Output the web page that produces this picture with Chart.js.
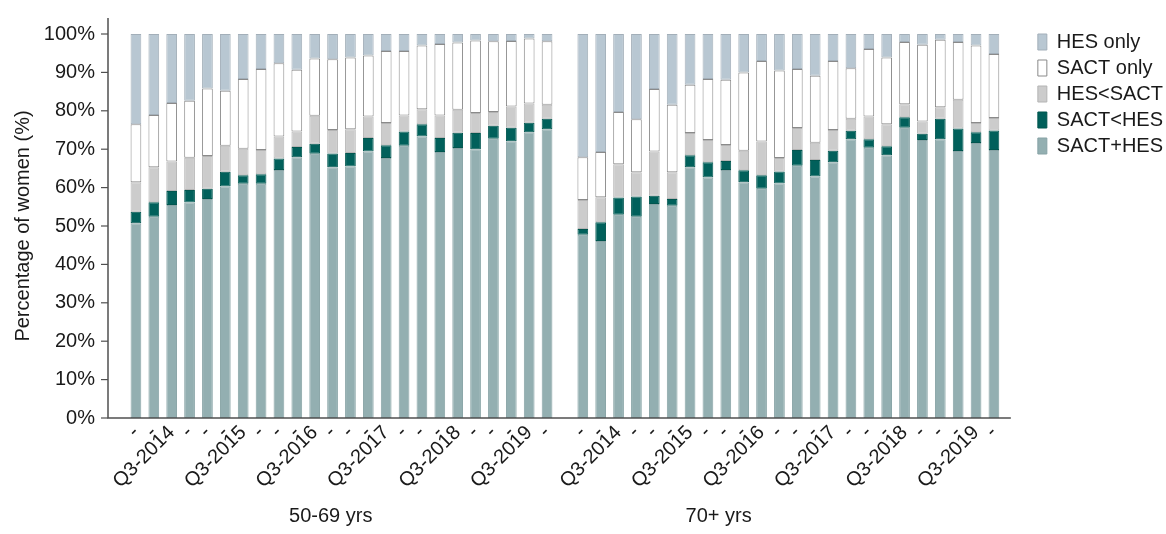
<!DOCTYPE html>
<html>
<head>
<meta charset="utf-8">
<script src="https://cdn.jsdelivr.net/npm/chart.js@4.4.1/dist/chart.umd.min.js"></script>
<style>
  body { margin: 0; background: #fff; }
</style>
</head>
<body>
<canvas id="treatmentChart" width="1166" height="534"></canvas>
<script>
// Age groups and quarter tick labels (Q1-2014 .. Q4-2019)
const ageGroups = ['50-69 yrs', '70+ yrs'];
const quarterLabels = [
  '-', '-', 'Q3-2014', '-',
  '-', '-', 'Q3-2015', '-',
  '-', '-', 'Q3-2016', '-',
  '-', '-', 'Q3-2017', '-',
  '-', '-', 'Q3-2018', '-',
  '-', '-', 'Q3-2019', '-'
];

// Percentage of women per quarter, 50-69 yrs
const sactHes5069 = [50.7, 52.4, 55.5, 56.1, 57.0, 60.3, 61.0, 61.0, 64.6, 67.9, 68.8, 65.3,
                     65.5, 69.4, 67.7, 70.9, 73.3, 69.3, 70.3, 70.0, 72.7, 72.1, 74.4, 75.2];
const sactBeforeHes5069 = [3.0, 3.8, 3.6, 3.3, 2.7, 3.8, 2.2, 2.5, 3.0, 2.7, 2.6, 3.6,
                           3.5, 3.5, 3.3, 3.7, 3.2, 3.6, 4.0, 4.2, 3.4, 3.5, 2.5, 2.7];
const hesBeforeSact5069 = [7.7, 9.1, 7.7, 8.4, 8.5, 6.8, 6.9, 6.3, 5.7, 4.0, 7.3, 6.1,
                           6.2, 5.6, 5.8, 4.2, 3.9, 5.9, 6.0, 5.2, 3.6, 5.5, 5.0, 3.7];
const sactOnly5069 = [15.1, 13.6, 15.2, 14.8, 17.6, 14.3, 18.2, 21.1, 19.1, 16.1, 14.9, 18.4,
                      18.7, 15.9, 18.8, 16.8, 16.6, 18.6, 17.5, 18.9, 18.4, 17.1, 16.9, 16.5];
const hesOnly5069 = [23.5, 21.1, 18.0, 17.4, 14.2, 14.8, 11.7, 9.1, 7.6, 9.3, 6.4, 6.6,
                     6.1, 5.6, 4.4, 4.4, 3.0, 2.6, 2.2, 1.7, 1.9, 1.8, 1.2, 1.9];

// Percentage of women per quarter, 70+ yrs
const sactHes70 = [47.7, 46.1, 52.9, 52.4, 55.7, 55.3, 65.3, 62.6, 64.6, 61.4, 59.7, 61.1,
                   65.7, 62.9, 66.6, 72.6, 70.4, 68.4, 75.6, 72.4, 72.6, 69.5, 71.6, 69.8];
const sactBeforeHes70 = [1.5, 4.9, 4.5, 5.3, 2.2, 1.7, 3.1, 4.0, 2.3, 3.1, 3.5, 3.1,
                         4.1, 4.3, 3.0, 2.2, 2.2, 2.4, 2.7, 1.6, 5.3, 5.9, 2.8, 5.1];
const hesBeforeSact70 = [7.6, 6.5, 8.7, 6.3, 11.5, 7.0, 5.8, 5.8, 4.2, 5.1, 8.8, 3.5,
                         5.7, 4.5, 5.4, 3.1, 5.9, 5.7, 3.4, 3.2, 3.0, 7.5, 2.4, 3.2];
const sactOnly70 = [11.1, 11.8, 13.6, 13.8, 16.3, 17.6, 12.6, 15.9, 17.0, 20.4, 21.0, 22.8,
                    15.4, 17.4, 18.0, 13.2, 17.6, 17.4, 16.2, 20.0, 17.6, 15.0, 20.2, 16.7];
const hesOnly70 = [32.1, 30.7, 20.3, 22.2, 14.3, 18.4, 13.2, 11.7, 11.9, 10.0, 7.0, 9.5,
                   9.1, 10.9, 7.0, 8.9, 3.9, 6.1, 2.1, 2.8, 1.5, 2.1, 3.0, 5.2];

const yTicks = [0, 10, 20, 30, 40, 50, 60, 70, 80, 90, 100];

// one empty slot separates the two age groups
const labels = quarterLabels.concat([''], quarterLabels);
const joinGroups = (a, b) => a.concat([null], b);

const seriesDefs = [
  { label: 'SACT+HES', young: sactHes5069,       old: sactHes70,       fill: '#93afb1', line: '#87a3a5' },
  { label: 'SACT<HES', young: sactBeforeHes5069, old: sactBeforeHes70, fill: '#01605b', line: '#01564f' },
  { label: 'HES<SACT', young: hesBeforeSact5069, old: hesBeforeSact70, fill: '#cccccc', line: '#b4b4b4' },
  { label: 'SACT only', young: sactOnly5069,     old: sactOnly70,      fill: '#ffffff', line: '#8a8a8a' },
  { label: 'HES only', young: hesOnly5069,       old: hesOnly70,       fill: '#b8c7d2', line: '#a3afb9' }
];

const datasets = seriesDefs.map(s => ({
  label: s.label,
  data: joinGroups(s.young, s.old),
  backgroundColor: s.fill,
  borderColor: s.line,
  borderWidth: 1,
  borderSkipped: false,
  barPercentage: 0.6,
  categoryPercentage: 1.0
}));

const textColor = '#1a1a1a';
const baseFont = { family: 'Liberation Sans, Arial, sans-serif', size: 20 };

// axis lines, y tick marks, age group captions, legend placement
const axisDecor = {
  id: 'axisDecor',
  afterLayout(chart) {
    const lg = chart.legend;
    lg.left += 29; lg.right += 29;
    lg.top -= 8; lg.bottom -= 8;
  },
  afterDraw(chart) {
    const { ctx, chartArea, scales } = chart;
    const x = scales.x, y = scales.y;
    const axisX = chartArea.left - 19;
    const axisEnd = chartArea.right + 8;
    ctx.save();
    ctx.strokeStyle = '#505050';
    ctx.lineWidth = 1.5;
    ctx.beginPath();
    ctx.moveTo(axisX, chartArea.top - 16);
    ctx.lineTo(axisX, chartArea.bottom);
    ctx.lineTo(axisEnd, chartArea.bottom);
    ctx.stroke();
    ctx.lineWidth = 1.2;
    y.ticks.forEach(t => {
      const py = y.getPixelForValue(t.value);
      ctx.beginPath();
      ctx.moveTo(axisX - 7, py);
      ctx.lineTo(axisX, py);
      ctx.stroke();
    });
    const slot = x.getPixelForValue(1) - x.getPixelForValue(0);
    const at = f => x.getPixelForValue(0) + f * slot;
    ctx.fillStyle = textColor;
    ctx.font = baseFont.size + 'px ' + baseFont.family;
    ctx.textAlign = 'center';
    ctx.textBaseline = 'middle';
    ctx.fillText(ageGroups[0], at(10.9), 516);
    ctx.fillText(ageGroups[1], at(32.6), 516);
    ctx.restore();
  }
};

new Chart(document.getElementById('treatmentChart'), {
  type: 'bar',
  data: { labels: labels, datasets: datasets },
  options: {
    responsive: false,
    animation: false,
    events: [],
    layout: { padding: { top: 34, right: 22, bottom: 0, left: 0 } },
    scales: {
      x: {
        stacked: true,
        grid: { display: false, drawTicks: false },
        border: { display: false },
        ticks: {
          autoSkip: false,
          maxRotation: 45,
          minRotation: 45,
          padding: 3,
          color: textColor,
          font: baseFont
        },
        afterFit(scale) { scale.height = 116; }
      },
      y: {
        stacked: true,
        min: 0,
        max: 100,
        grid: { display: false, drawTicks: false },
        border: { display: false },
        afterBuildTicks(scale) { scale.ticks = yTicks.map(v => ({ value: v })); },
        ticks: {
          padding: 32,
          color: textColor,
          font: baseFont,
          callback: v => v + '%'
        },
        title: {
          display: true,
          text: 'Percentage of women (%)',
          color: textColor,
          font: baseFont,
          padding: { top: 11, bottom: 0 }
        },
        afterFit(scale) {
          scale.width = 127;
          // the large label gap should not push the plot area down
          scale.paddingTop = 10;
          scale.paddingBottom = 10;
        }
      }
    },
    plugins: {
      legend: {
        position: 'right',
        align: 'start',
        reverse: true,
        labels: {
          boxWidth: 9,
          boxHeight: 16,
          padding: 6,
          color: textColor,
          font: baseFont
        }
      },
      tooltip: { enabled: false }
    }
  },
  plugins: [axisDecor]
});
</script>
</body>
</html>
